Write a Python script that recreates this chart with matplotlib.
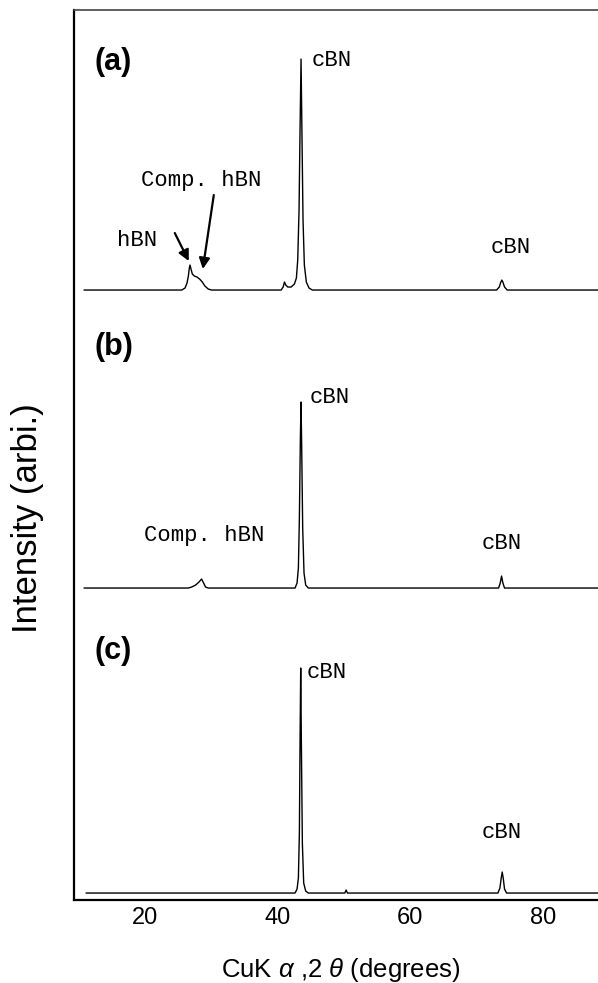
import matplotlib
matplotlib.use("Agg")
from matplotlib import pyplot as plt
import numpy as np

plt.rcParams["font.family"] = ["Liberation Sans", "DejaVu Sans"]
plt.rcParams["mathtext.fontset"] = "custom"
plt.rcParams["mathtext.rm"] = "Liberation Sans"
plt.rcParams["mathtext.it"] = "Liberation Sans:italic"

# traced XRD patterns (2theta in degrees, intensity in arbitrary units)
two_theta_a = [10.8, 25.5, 26.0, 26.3, 26.5, 26.65, 26.75, 26.9, 27.1, 27.4, 27.8, 28.2, 28.6, 29.0, 29.5, 30.0,
               40.5, 40.8, 41.0, 41.2, 41.5, 42.0, 42.5, 42.8, 43.0, 43.2, 43.35, 43.5, 43.65, 43.8, 44.0, 44.3,
               44.7, 45.2, 73.0, 73.4, 73.65, 73.8, 73.95, 74.2, 74.6, 90.0]
intensity_a = [0, 0, 2, 7, 14, 22, 25, 21, 16, 14, 13, 11, 8, 4, 1, 0,
               0, 3, 8, 5, 3, 3, 6, 12, 30, 80, 160, 231, 150, 70, 25, 8,
               2, 0, 0, 3, 8, 10, 8, 3, 0, 0]

two_theta_b = [10.8, 26.5, 27.0, 27.6, 28.1, 28.5, 28.8, 29.1, 29.5, 42.6, 42.9, 43.1, 43.25, 43.4, 43.5,
               43.6, 43.75, 43.95, 44.2, 44.6, 73.3, 73.55, 73.75, 73.95, 74.2, 90.0]
intensity_b = [0, 0, 1, 3, 6, 9, 5, 1, 0, 0, 5, 20, 70, 150, 186,
               140, 60, 15, 3, 0, 0, 5, 12, 5, 0, 0]

two_theta_c = [11.1, 42.6, 42.9, 43.1, 43.25, 43.35, 43.45, 43.55, 43.7, 43.9, 44.2, 44.6,
               50.1, 50.3, 50.5, 73.2, 73.5, 73.7, 73.85, 74.0, 74.2, 74.5, 90.0]
intensity_c = [0, 0, 4, 15, 60, 150, 225, 150, 50, 10, 2, 0,
               0, 3, 0, 0, 5, 15, 21, 15, 4, 0, 0]

offsets = {"a": 610, "b": 312, "c": 7}
x_ticks = [20, 40, 60, 80]

fig = plt.figure(figsize=(5.98, 9.83), dpi=100)
ax = fig.add_axes([0.1232, 0.0844, 0.8768, 0.9054])

ax.plot(two_theta_a, np.array(intensity_a) + offsets["a"], color="black", lw=1.0)
ax.plot(two_theta_b, np.array(intensity_b) + offsets["b"], color="black", lw=1.0)
ax.plot(two_theta_c, np.array(intensity_c) + offsets["c"], color="black", lw=1.0)

ax.set_xlim(9.2, 88.3)
ax.set_ylim(0, 890)
ax.set_xticks(x_ticks)
ax.set_xticklabels([str(t) for t in x_ticks])
ax.tick_params(axis="x", length=0, pad=5, labelsize=17)
ax.set_yticks([])
ax.spines["right"].set_visible(False)
ax.spines["left"].set_linewidth(1.6)
ax.spines["bottom"].set_linewidth(1.6)
ax.spines["top"].set_linewidth(1.2)
ax.spines["top"].set_color("#444444")


def deg(px):
    return 20 + (px - 145.5) / 6.625


def yv(py):
    return 900 - py


mono = dict(family="Liberation Mono", fontsize=16, ha="left", va="center")
panel = dict(fontsize=22, fontweight="bold", ha="left", va="center")

# panel (a)
ax.text(deg(95), yv(62), "(a)", **panel)
ax.text(deg(312), yv(60), "cBN", **mono)
ax.text(deg(141), yv(180), "Comp. hBN", **mono)
ax.text(deg(117), yv(240), "hBN", **mono)
ax.text(deg(491), yv(247), "cBN", **mono)
arrow = dict(arrowstyle="-|>", color="black", lw=1.6, mutation_scale=16, shrinkA=0, shrinkB=0)
ax.annotate("", xy=(deg(189), yv(261)), xytext=(deg(175), yv(233)), arrowprops=arrow)
ax.annotate("", xy=(deg(203), yv(269)), xytext=(deg(214), yv(195)), arrowprops=arrow)

# panel (b)
ax.text(deg(95), yv(347), "(b)", **panel)
ax.text(deg(310), yv(397), "cBN", **mono)
ax.text(deg(144), yv(535), "Comp. hBN", **mono)
ax.text(deg(482), yv(543), "cBN", **mono)

# panel (c)
ax.text(deg(95), yv(651), "(c)", **panel)
ax.text(deg(307), yv(672), "cBN", **mono)
ax.text(deg(482), yv(832), "cBN", **mono)

fig.text(341 / 598, 1 - 970 / 983, r"CuK $\alpha$ ,2 $\theta$ (degrees)", fontsize=18.5,
         ha="center", va="center")
fig.text(27.5 / 598, 1 - 518 / 983, "Intensity (arbi.)", fontsize=25, rotation=90,
         ha="center", va="center")

fig.savefig("out.png", dpi=100)
